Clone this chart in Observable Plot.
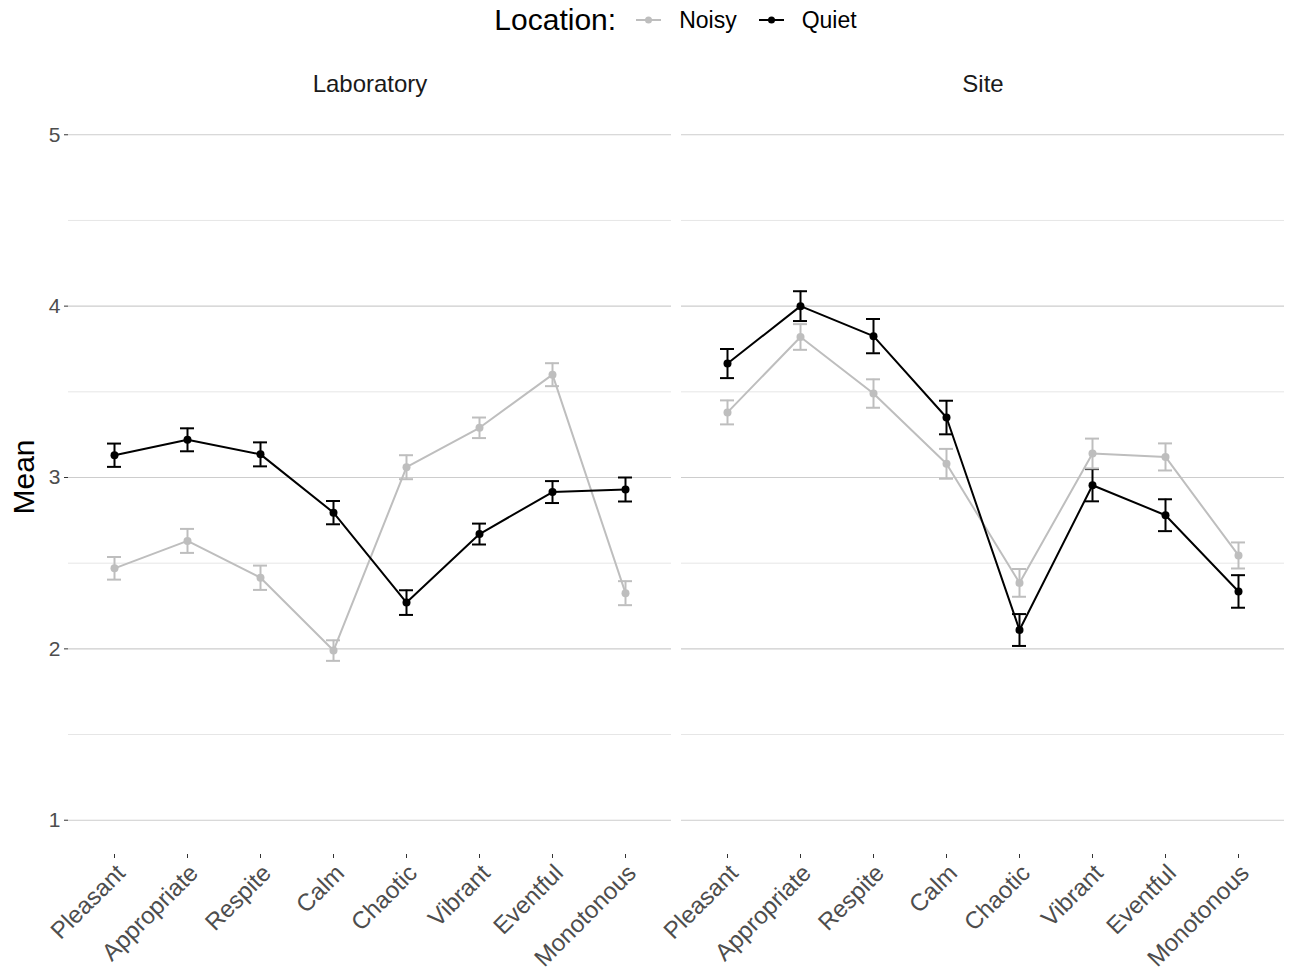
<!DOCTYPE html>
<html>
<head>
<meta charset="utf-8">
<script src="https://cdn.jsdelivr.net/npm/d3@7"></script>
<script src="https://cdn.jsdelivr.net/npm/@observablehq/plot@0.6"></script>
<style>
  body { margin: 0; background: white; font-family: "Liberation Sans", Arial, Helvetica, sans-serif; }
  #legend { width: 1290px; height: 40px; margin-bottom: 10px; display: flex; align-items: center; justify-content: center; padding-left: 67px; padding-right: 6px; box-sizing: border-box; }
  #legend .title { font-size: 30px; color: #000; margin-right: 20px; }
  #legend .lab { font-size: 23px; color: #000; }
  #legend svg { display: block; }
  #wrap { position: relative; width: 1290px; }
  #ylabel { position: absolute; left: 24px; top: 427px; font-size: 30px; color: #000; transform: translate(-50%, -50%) rotate(-90deg); white-space: nowrap; line-height: 1; }
</style>
</head>
<body>
<div id="legend"></div>
<div id="wrap"><div id="chart"></div><div id="ylabel"></div></div>
<script>
// ---- data ----
const panels = ["Laboratory", "Site"];
const locations = ["Noisy", "Quiet"];
const attributes = ["Pleasant", "Appropriate", "Respite", "Calm", "Chaotic", "Vibrant", "Eventful", "Monotonous"];
const yTitle = "Mean";

const labNoisyMean  = [2.47, 2.63, 2.415, 1.99, 3.06, 3.29, 3.60, 2.325];
const labNoisyErr   = [0.066, 0.070, 0.071, 0.060, 0.070, 0.060, 0.067, 0.070];
const labQuietMean  = [3.13, 3.22, 3.135, 2.795, 2.27, 2.67, 2.915, 2.93];
const labQuietErr   = [0.068, 0.067, 0.070, 0.068, 0.072, 0.061, 0.064, 0.070];
const siteNoisyMean = [3.38, 3.82, 3.49, 3.08, 2.385, 3.14, 3.12, 2.545];
const siteNoisyErr  = [0.070, 0.075, 0.083, 0.087, 0.081, 0.087, 0.079, 0.076];
const siteQuietMean = [3.665, 4.00, 3.825, 3.35, 2.11, 2.955, 2.78, 2.335];
const siteQuietErr  = [0.085, 0.087, 0.100, 0.098, 0.093, 0.094, 0.093, 0.095];

const majorTicks = [1, 2, 3, 4, 5];
const minorTicks = [1.5, 2.5, 3.5, 4.5];
const colors = ["#bebebe", "#000000"];

// ---- table ----
const series = [
  ["Laboratory", "Noisy", labNoisyMean, labNoisyErr],
  ["Laboratory", "Quiet", labQuietMean, labQuietErr],
  ["Site", "Noisy", siteNoisyMean, siteNoisyErr],
  ["Site", "Quiet", siteQuietMean, siteQuietErr]
];
const rows = [];
for (const loc of locations) {
  for (const [panel, l, means, errs] of series) {
    if (l !== loc) continue;
    attributes.forEach((a, i) => rows.push({panel, location: l, attr: a, mean: means[i], se: errs[i]}));
  }
}

// ---- legend ----
const legend = document.getElementById("legend");
legend.innerHTML = `<span class="title">Location:</span>` + locations.map((loc, i) =>
  `<svg width="25" height="10" style="margin-right:18px"><line x1="0" x2="25" y1="5" y2="5" stroke="${colors[i]}" stroke-width="2"/><circle cx="12.5" cy="5" r="3.5" fill="${colors[i]}"/></svg><span class="lab" style="margin-right:${i === 0 ? 22 : 0}px">${loc}</span>`
).join("");
document.getElementById("ylabel").textContent = yTitle;

// ---- chart ----
const common = {fx: "panel", x: "attr", stroke: "location"};
const chart = Plot.plot({
  width: 1290,
  height: 920,
  marginLeft: 67,
  marginRight: 6,
  marginTop: 50,
  marginBottom: 116,
  style: {fontFamily: "'Liberation Sans', Arial, Helvetica, sans-serif", fontSize: "20px", background: "white"},
  fx: {domain: panels, paddingInner: 0.0165, paddingOuter: 0, label: null},
  x: {type: "point", domain: attributes, padding: 0.6, label: null},
  y: {domain: [0.8, 5.2], label: null},
  color: {domain: locations, range: colors},
  marks: [
    Plot.gridY(minorTicks, {stroke: "#e6e6e6", strokeOpacity: 1, strokeWidth: 1}),
    Plot.gridY(majorTicks, {stroke: "#cdcdcd", strokeOpacity: 1, strokeWidth: 1.2}),
    Plot.axisY(majorTicks, {tickSize: 4, tickPadding: 4, tickFormat: "d", fontSize: 21, fill: "#4d4d4d", stroke: "#333", label: null}),
    Plot.axisX({tickRotate: -45, tickSize: 4, tickPadding: 4, fontSize: 24, fill: "#4d4d4d", stroke: "#333", lineAnchor: "top", label: null}),
    Plot.axisFx({anchor: "top", tickSize: 0, tickPadding: 9, fontSize: 24, fill: "#1a1a1a", label: null}),
    Plot.line(rows, {...common, y: "mean", z: "location", strokeWidth: 2}),
    Plot.dot(rows, {fx: "panel", x: "attr", y: "mean", fill: "location", r: 4}),
    Plot.ruleX(rows, {...common, y1: d => d.mean - d.se, y2: d => d.mean + d.se, strokeWidth: 2}),
    Plot.ruleY(rows, {fx: "panel", x1: "attr", x2: "attr", y: d => d.mean + d.se, stroke: "location", strokeWidth: 2, insetLeft: -7, insetRight: -7}),
    Plot.ruleY(rows, {fx: "panel", x1: "attr", x2: "attr", y: d => d.mean - d.se, stroke: "location", strokeWidth: 2, insetLeft: -7, insetRight: -7})
  ]
});
document.getElementById("chart").appendChild(chart);
</script>
</body>
</html>
